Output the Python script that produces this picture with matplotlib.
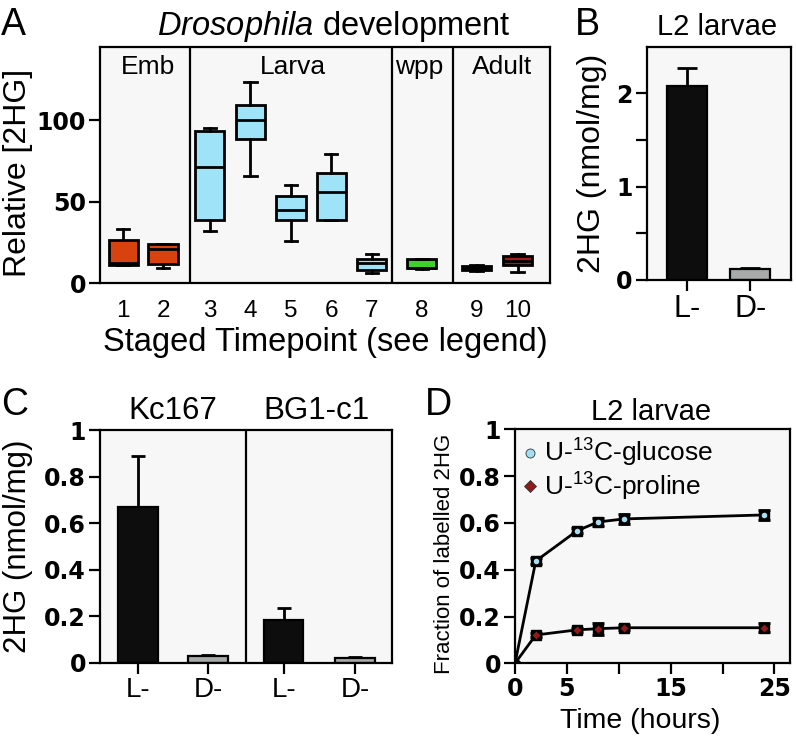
import matplotlib
matplotlib.use('Agg')
import matplotlib.pyplot as plt
from matplotlib.lines import Line2D

plt.rcParams['font.family'] = ['Liberation Sans', 'DejaVu Sans']
plt.rcParams['mathtext.fontset'] = 'custom'
plt.rcParams['mathtext.it'] = 'Liberation Sans:italic'
plt.rcParams['mathtext.rm'] = 'Liberation Sans'
plt.rcParams['axes.linewidth'] = 1.6
plt.rcParams['xtick.major.width'] = 1.6
plt.rcParams['ytick.major.width'] = 1.6
plt.rcParams['xtick.minor.width'] = 1.6
plt.rcParams['ytick.minor.width'] = 1.6

# ---- panel A data (box plots) ----
stage_labels = ['1', '2', '3', '4', '5', '6', '7', '8', '9', '10']
box_whislo = [11, 9.5, 32, 66, 26, 38.5, 6, 8.5, 7.5, 7]
box_q1 = [11, 11.5, 39, 88.5, 38.5, 39, 8, 9, 8, 11]
box_med = [12, 21, 71, 100, 45, 56, 12, 9.5, 9.5, 13.5]
box_q3 = [26.5, 24, 93.5, 109.5, 53.5, 67.5, 15, 14.5, 10.5, 16.5]
box_whishi = [33, 24, 95.5, 123.5, 60, 79.5, 18, 15, 11, 18]
box_colors = ['#d8420f', '#d8420f', '#9ee3f7', '#9ee3f7', '#9ee3f7', '#9ee3f7',
              '#9ee3f7', '#3ed12c', '#111111', '#a3191a']
stage_groups = ['Emb', 'Larva', 'wpp', 'Adult']

# ---- panel B data ----
b_labels = ['L-', 'D-']
b_values = [2.08, 0.115]
b_errors = [0.19, 0.012]

# ---- panel C data ----
c_lines = ['Kc167', 'BG1-c1']
c_labels = ['L-', 'D-', 'L-', 'D-']
c_values = [0.67, 0.03, 0.183, 0.021]
c_errors = [0.22, 0.003, 0.052, 0.004]

# ---- panel D data ----
d_time = [0, 2, 6, 8, 10.5, 24]
glucose = [0, 0.437, 0.567, 0.604, 0.617, 0.634]
glucose_err = [0, 0.012, 0.010, 0.016, 0.020, 0.020]
proline = [0, 0.121, 0.143, 0.148, 0.152, 0.152]
proline_err = [0, 0.010, 0.010, 0.026, 0.010, 0.020]

bg = '#f7f7f7'
bar_black = '#0d0d0d'
bar_grey = '#a7aba9'
tickfont = dict(fontsize=17, fontweight='bold', family='DejaVu Sans')
W, H = 796, 738

fig = plt.figure(figsize=(7.96, 7.38), dpi=100)

# ================= A =================
axA = fig.add_axes([0.1256, 0.6165, 0.565, 0.3198])
axA.set_facecolor(bg)
positions = [0.57, 1.55, 2.7, 3.7, 4.7, 5.69, 6.68, 7.91, 9.26, 10.27]
stats = []
for i in range(len(stage_labels)):
    stats.append(dict(whislo=box_whislo[i], q1=box_q1[i], med=box_med[i],
                      q3=box_q3[i], whishi=box_whishi[i], fliers=[]))
bp = axA.bxp(stats, positions=positions, widths=0.72, patch_artist=True,
             showfliers=False,
             boxprops=dict(linewidth=2.0, edgecolor='black'),
             medianprops=dict(color='black', linewidth=2.0),
             whiskerprops=dict(color='black', linewidth=2.0),
             capprops=dict(color='black', linewidth=2.0),
             capwidths=0.3)
for patch, c in zip(bp['boxes'], box_colors):
    patch.set_facecolor(c)
for xd in [2.21, 7.17, 8.67]:
    axA.axvline(xd, color='black', lw=1.6)
for name, xg in zip(stage_groups, [1.19, 4.75, 7.86, 9.89]):
    axA.text(xg, 132.7, name, ha='center', va='center', fontsize=19)
axA.set_xlim(0, 11.06)
axA.set_ylim(0, 145)
axA.set_yticks([0, 50, 100])
axA.set_yticklabels(['0', '50', '100'], **tickfont)
axA.set_xticks(positions)
axA.set_xticklabels(stage_labels, fontsize=17.5)
axA.tick_params(axis='x', length=0, pad=12)
axA.tick_params(axis='y', length=8, pad=2)
axA.set_ylabel('Relative [2HG]', fontsize=23)
axA.yaxis.set_label_coords(-0.149, 0.466)
axA.set_xlabel('Staged Timepoint (see legend)', fontsize=23.5)
axA.xaxis.set_label_coords(0.5, -0.186)

# ================= B =================
axB = fig.add_axes([0.8124, 0.6206, 0.181, 0.3161])
axB.set_facecolor(bg)
xb = range(len(b_labels))
axB.bar(xb, b_values, width=0.63, color=[bar_black, bar_grey], edgecolor='black',
        linewidth=1.6, zorder=2)
axB.errorbar(xb, b_values, yerr=[[0, 0], b_errors], fmt='none', ecolor='black',
             elinewidth=2, capsize=7.5, capthick=2, zorder=1)
axB.set_xlim(-0.632, 1.64)
axB.set_ylim(0, 2.5)
axB.set_yticks([0, 1, 2])
axB.set_yticklabels(['0', '1', '2'], **tickfont)
axB.set_yticks([0.5, 1.5], minor=True)
axB.set_xticks(list(xb))
axB.set_xticklabels(b_labels, fontsize=22)
axB.tick_params(axis='both', which='both', length=8, pad=2)
axB.set_ylabel('2HG (nmol/mg)', fontsize=23)
axB.yaxis.set_label_coords(-0.276, 0.5)
fig.text(717.5 / W, 1 - 35 / H, 'L2 larvae', ha='center', va='baseline', fontsize=21)

# ================= C =================
axC = fig.add_axes([0.1256, 0.102, 0.3665, 0.3153])
axC.set_facecolor(bg)
xc = [0, 1, 2.08, 3.1]
axC.bar(xc, c_values, width=0.56, color=[bar_black, bar_grey, bar_black, bar_grey],
        edgecolor='black', linewidth=1.6, zorder=2)
axC.errorbar(xc, c_values, yerr=[[0] * 4, c_errors], fmt='none', ecolor='black',
             elinewidth=2, capsize=5, capthick=2, zorder=1)
axC.axvline(1.54, color='black', lw=1.6)
axC.set_xlim(-0.543, 3.625)
axC.set_ylim(0, 1)
axC.set_yticks([0, 0.2, 0.4, 0.6, 0.8, 1])
axC.set_yticklabels(['0', '0.2', '0.4', '0.6', '0.8', '1'], **tickfont)
axC.set_xticks(xc)
axC.set_xticklabels(c_labels, fontsize=20)
axC.tick_params(axis='both', length=8, pad=2)
axC.set_ylabel('2HG (nmol/mg)', fontsize=22.5)
axC.yaxis.set_label_coords(-0.23, 0.5)
fig.text(172.5 / W, 1 - 419 / H, c_lines[0], ha='center', va='baseline', fontsize=22.5)
fig.text(316.7 / W, 1 - 419 / H, c_lines[1], ha='center', va='baseline', fontsize=22.5)

# ================= D =================
axD = fig.add_axes([0.647, 0.1012, 0.3455, 0.3171])
axD.set_facecolor(bg)
series = [(glucose, glucose_err, '#a4def0', 'o', 'U-$^{13}$C-glucose'),
          (proline, proline_err, '#8e1a1c', 'D', 'U-$^{13}$C-proline')]
handles = []
for vals, errs, col, mk, lab in series:
    axD.errorbar(d_time, vals, yerr=errs, fmt='-', color='black', lw=2,
                 ecolor='black', elinewidth=2, capsize=4, capthick=2, zorder=2)
    axD.plot(d_time[1:], vals[1:], 's', ms=7.5, color='black', zorder=3)
    axD.plot(d_time[1:], vals[1:], mk, ms=4, color=col, mec='none', zorder=4)
    handles.append(Line2D([], [], marker=mk, ls='none', ms=6.5, color=col,
                          mec='#333333', mew=0.6, label=lab))
axD.plot([0], [0], 'D', ms=6, color='black', zorder=4)
axD.legend(handles=handles, loc='upper left', frameon=False, fontsize=19,
           handlelength=0.5, handletextpad=0.3, borderaxespad=0.1,
           labelspacing=0.05, borderpad=0.2)
axD.set_xlim(0, 26.5)
axD.set_ylim(0, 1)
axD.set_yticks([0, 0.2, 0.4, 0.6, 0.8, 1])
axD.set_yticklabels(['0', '0.2', '0.4', '0.6', '0.8', '1'], **tickfont)
axD.set_xticks([0, 5, 10, 15, 20, 25])
axD.set_xticklabels(['0', '5', '', '15', '', '25'], **tickfont)
axD.tick_params(axis='both', length=8, pad=2)
axD.set_ylabel('Fraction of labelled 2HG', fontsize=16)
axD.yaxis.set_label_coords(-0.218, 0.469)
axD.set_xlabel('Time (hours)', fontsize=20.5)
axD.xaxis.set_label_coords(0.455, -0.19)
fig.text(651 / W, 1 - 420 / H, 'L2 larvae', ha='center', va='baseline', fontsize=21)

# ---- panel title and letters ----
fig.text(334 / W, 1 - 35 / H, r'$\mathit{Drosophila}$ development',
         ha='center', va='baseline', fontsize=23.5)
for letter, px, py in [('A', 1, 35), ('B', 575, 35), ('C', 1, 415), ('D', 425, 415)]:
    fig.text(px / W, 1 - py / H, letter, ha='left', va='baseline', fontsize=27)

fig.savefig('out.png', dpi=100)
